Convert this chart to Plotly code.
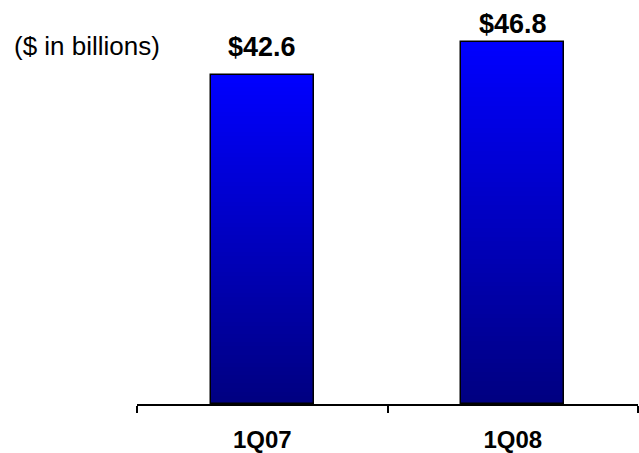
import plotly.graph_objects as go

categories = ["1Q07", "1Q08"]
values = [42.6, 46.8]
value_labels = ["$42.6", "$46.8"]
subtitle = "($ in billions)"

N = 80
top_rgb = (0, 0, 255)
bot_rgb = (0, 0, 128)

fig = go.Figure()
for i in range(N):
    f = (i + 0.5) / N
    c = tuple(round(bot_rgb[k] + (top_rgb[k] - bot_rgb[k]) * f) for k in range(3))
    fig.add_trace(go.Bar(
        x=categories,
        y=[v / N * 1.04 for v in values],
        base=[v * i / N for v in values],
        width=0.41,
        marker=dict(color="rgb(%d,%d,%d)" % c, line=dict(width=0)),
        hoverinfo="skip", showlegend=False,
    ))
# outline
fig.add_trace(go.Bar(
    x=categories, y=values, width=0.41,
    marker=dict(color="rgba(0,0,0,0)", line=dict(color="black", width=1.5)),
    showlegend=False,
))

yshifts = [11, 1]
for cat, v, lab, ys in zip(categories, values, value_labels, yshifts):
    fig.add_annotation(x=cat, y=v, text="<b>%s</b>" % lab, showarrow=False,
                       yanchor="bottom", yshift=ys,
                       font=dict(family="Liberation Sans, Arial", size=27, color="black"))

fig.add_annotation(xref="paper", yref="paper", x=-125/501, y=(404 - 46) / 384, xanchor="left",
                   yanchor="middle", text=subtitle, showarrow=False,
                   font=dict(family="Liberation Sans, Arial", size=26, color="black"))

fig.update_layout(
    width=639, height=453,
    margin=dict(l=137, r=1, t=20, b=49),
    barmode="overlay", bargap=0,
    plot_bgcolor="white", paper_bgcolor="white",
    xaxis=dict(showline=True, linecolor="black", linewidth=1.5,
               ticks="outside", tickson="boundaries", ticklen=7, tickcolor="black",
               tickwidth=1.5, showgrid=False, range=[-0.5, 1.5], automargin=False,
               tickfont=dict(family="Liberation Sans, Arial", size=24, color="black"),
               tickprefix="<b>", ticksuffix="</b>", ticklabelstandoff=13),
    yaxis=dict(visible=False, range=[0, (404 - 20) / 7.73]),
)

fig.write_html("out.html")
